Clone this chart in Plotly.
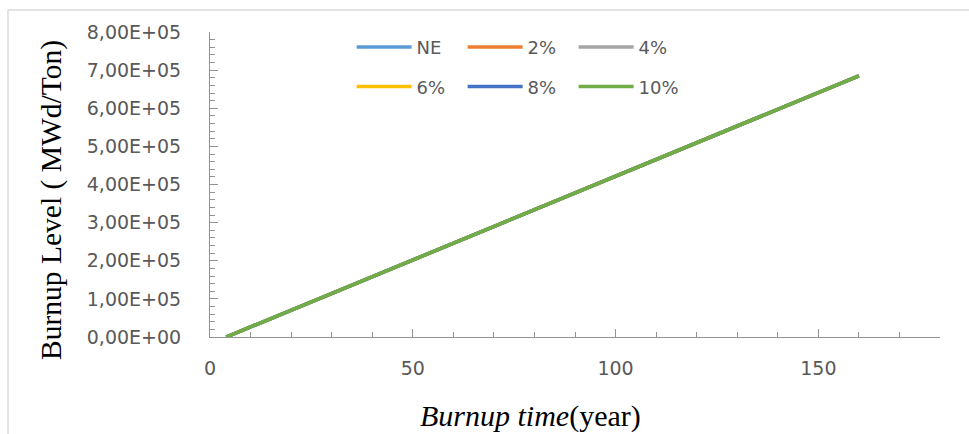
import plotly.graph_objects as go

# ---- data ----
SERIES_NAMES = ["NE", "2%", "4%", "6%", "8%", "10%"]
SERIES_COLORS = ["#5B9BD5", "#ED7D31", "#A5A5A5", "#FFC000", "#4472C4", "#70AD47"]
BURNUP_TIME = [4, 50, 100, 150, 160]                  # years
BURNUP_NE = [0, 2.02e5, 4.22e5, 6.42e5, 6.85e5]
BURNUP_2 = [0, 2.02e5, 4.22e5, 6.42e5, 6.85e5]
BURNUP_4 = [0, 2.02e5, 4.22e5, 6.42e5, 6.85e5]
BURNUP_6 = [0, 2.02e5, 4.22e5, 6.42e5, 6.85e5]
BURNUP_8 = [0, 2.02e5, 4.22e5, 6.42e5, 6.85e5]
BURNUP_10 = [0, 2.02e5, 4.22e5, 6.42e5, 6.85e5]
SERIES_VALUES = [BURNUP_NE, BURNUP_2, BURNUP_4, BURNUP_6, BURNUP_8, BURNUP_10]

X_TICKS = [0, 50, 100, 150]
Y_TICKS = [0, 1e5, 2e5, 3e5, 4e5, 5e5, 6e5, 7e5, 8e5]
Y_TICK_LABELS = ["0,00E+00", "1,00E+05", "2,00E+05", "3,00E+05", "4,00E+05",
                 "5,00E+05", "6,00E+05", "7,00E+05", "8,00E+05"]

AXIS_GRAY = "#939393"
TEXT_GRAY = "#595959"
SANS = "DejaVu Sans"
SERIF = "Liberation Serif"

fig = go.Figure()
for i, (name, color, vals) in enumerate(zip(SERIES_NAMES, SERIES_COLORS, SERIES_VALUES)):
    fig.add_trace(go.Scatter(
        x=BURNUP_TIME, y=vals, name=name, mode="lines",
        line=dict(color=color, width=3.5),
        legend="legend" if i < 3 else "legend2",
    ))

legend_common = dict(
    orientation="h", xanchor="left", yanchor="middle",
    font=dict(family=SANS, size=18, color=TEXT_GRAY),
    itemwidth=55, entrywidth=41, bgcolor="rgba(0,0,0,0)",
    traceorder="normal",
)

fig.update_layout(
    width=969, height=434,
    margin=dict(l=210, r=29, t=32, b=97),
    paper_bgcolor="white", plot_bgcolor="white",
    showlegend=True,
    legend=dict(x=0.194, y=0.95, **legend_common),
    legend2=dict(x=0.194, y=0.82, **legend_common),
    xaxis=dict(
        range=[0, 180], tickmode="array", tickvals=X_TICKS,
        ticks="inside", ticklen=8, tickcolor=AXIS_GRAY,
        showline=True, linecolor=AXIS_GRAY, linewidth=1,
        showgrid=False, zeroline=False,
        tickfont=dict(family=SANS, size=19, color=TEXT_GRAY),
        ticklabelstandoff=14,
        minor=dict(tickmode="linear", tick0=0, dtick=10, ticks="inside",
                   ticklen=5, tickcolor=AXIS_GRAY, showgrid=False),
    ),
    yaxis=dict(
        range=[0, 8e5], tickmode="array", tickvals=Y_TICKS, ticktext=Y_TICK_LABELS,
        ticks="inside", ticklen=8, tickcolor=AXIS_GRAY,
        showline=True, linecolor=AXIS_GRAY, linewidth=1,
        showgrid=False, zeroline=False,
        tickfont=dict(family=SANS, size=19, color=TEXT_GRAY),
        ticklabelstandoff=24,
        minor=dict(tickmode="linear", tick0=0, dtick=2e4, ticks="inside",
                   ticklen=5, tickcolor=AXIS_GRAY, showgrid=False),
    ),
    annotations=[
        dict(text="Burnup Level ( MWd/Ton)", xref="paper", yref="paper",
             x=-0.218, y=0.449, textangle=-90, showarrow=False,
             xanchor="center", yanchor="middle",
             font=dict(family=SERIF, size=29.5, color="#000000")),
        dict(text="<i>Burnup time</i>(year)", xref="paper", yref="paper",
             x=0.4397, y=-0.259, showarrow=False,
             xanchor="center", yanchor="middle",
             font=dict(family=SERIF, size=30, color="#000000")),
    ],
    shapes=[
        dict(type="line", xref="paper", yref="paper", x0=-0.2767, x1=1.04,
             y0=1.072, y1=1.072, line=dict(color="#d9d9d9", width=1.5)),
        dict(type="line", xref="paper", yref="paper", x0=-0.2767, x1=-0.2767,
             y0=1.072, y1=-0.32, line=dict(color="#d9d9d9", width=1.5)),
    ],
)

fig.write_html("out.html", config={"displayModeBar": False},
               post_script="document.body.style.margin='0px';")
